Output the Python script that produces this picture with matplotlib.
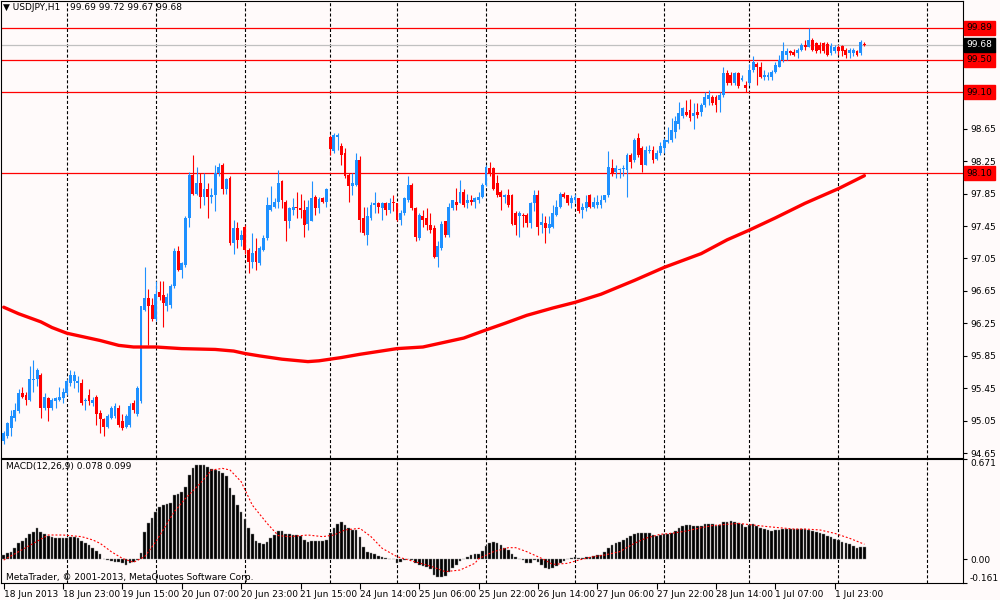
import matplotlib
matplotlib.use('Agg')
import matplotlib.pyplot as plt
import matplotlib.transforms as mtransforms
import numpy as np

plt.rcParams['font.family'] = ['DejaVu Sans']
plt.rcParams['lines.scale_dashes'] = False

# USDJPY H1 candles, bar 0 = 18 Jun 2013 07:00
open_p = [94.80, 94.86, 94.96, 95.09, 95.17, 95.39, 95.37, 95.31, 95.55, 95.56,
          95.62, 95.21, 95.33, 95.21, 95.29, 95.31, 95.33, 95.39, 95.52, 95.54,
          95.52, 95.52, 95.29, 95.37, 95.27, 95.35, 95.15, 95.07, 94.98, 95.09,
          95.11, 95.21, 95.05, 94.98, 95.00, 95.27, 95.13, 95.29, 96.42, 96.56,
          96.48, 96.30, 96.64, 96.60, 96.46, 96.48, 96.71, 97.14, 96.91, 96.97,
          97.55, 98.08, 97.85, 97.98, 97.81, 97.90, 97.81, 97.83, 98.10, 98.20,
          97.90, 98.04, 97.24, 97.42, 97.28, 97.44, 97.16, 97.01, 97.14, 96.99,
          97.16, 97.30, 97.65, 97.69, 97.75, 98.00, 97.75, 97.51, 97.65, 97.69,
          97.67, 97.65, 97.48, 97.51, 97.81, 97.67, 97.80, 97.75, 98.55, 98.37,
          98.55, 98.43, 98.35, 98.08, 97.94, 97.96, 98.26, 97.55, 97.34, 97.55,
          97.71, 97.73, 97.67, 97.73, 97.65, 97.75, 97.73, 97.53, 97.61, 97.77,
          97.96, 97.67, 97.30, 97.57, 97.55, 97.46, 97.42, 97.07, 97.18, 97.51,
          97.34, 97.67, 97.75, 97.73, 97.87, 97.73, 97.77, 97.75, 97.77, 97.81,
          97.96, 98.16, 98.17, 97.98, 97.87, 97.81, 97.83, 97.83, 97.61, 97.57,
          97.59, 97.59, 97.49, 97.73, 97.83, 97.46, 97.49, 97.42, 97.44, 97.59,
          97.69, 97.85, 97.83, 97.73, 97.77, 97.79, 97.65, 97.67, 97.83, 97.69,
          97.71, 97.71, 97.77, 97.83, 98.16, 98.12, 98.14, 98.15, 98.14, 98.33,
          98.26, 98.53, 98.41, 98.20, 98.37, 98.39, 98.28, 98.35, 98.41, 98.49,
          98.51, 98.61, 98.71, 98.80, 98.86, 98.88, 98.80, 98.86, 98.86, 98.94,
          99.02, 99.04, 99.04, 99.00, 99.06, 99.33, 99.31, 99.21, 99.33, 99.25,
          99.19, 99.21, 99.37, 99.45, 99.41, 99.29, 99.29, 99.29, 99.35, 99.41,
          99.49, 99.56, 99.60, 99.59, 99.58, 99.62, 99.68, 99.66, 99.74, 99.70,
          99.68, 99.70, 99.69, 99.58, 99.60, 99.66, 99.67, 99.62, 99.58, 99.58,
          99.60, 99.58, 99.69]
high_p = [94.92, 95.04, 95.19, 95.27, 95.44, 95.47, 95.41, 95.72, 95.80, 95.70,
          95.64, 95.39, 95.35, 95.33, 95.35, 95.47, 95.46, 95.56, 95.68, 95.66,
          95.60, 95.56, 95.33, 95.44, 95.35, 95.37, 95.19, 95.09, 95.13, 95.23,
          95.27, 95.25, 95.13, 95.13, 95.27, 95.31, 95.48, 96.46, 96.95, 96.67,
          96.56, 96.77, 96.77, 96.77, 96.62, 96.73, 97.18, 97.20, 97.01, 97.57,
          98.12, 98.33, 98.18, 98.10, 98.10, 97.98, 97.92, 98.20, 98.22, 98.22,
          98.04, 98.06, 97.52, 97.50, 97.40, 97.46, 97.18, 97.36, 97.30, 97.20,
          97.34, 97.81, 97.94, 97.79, 98.14, 98.02, 97.77, 97.69, 97.79, 97.87,
          97.85, 97.77, 97.77, 98.00, 97.83, 97.81, 97.81, 97.92, 98.57, 98.59,
          98.59, 98.47, 98.41, 98.10, 98.10, 98.35, 98.31, 97.69, 97.69, 97.75,
          97.87, 97.75, 97.75, 97.75, 97.79, 97.83, 97.73, 97.65, 97.81, 98.06,
          97.98, 97.69, 97.61, 97.65, 97.67, 97.61, 97.46, 97.26, 97.51, 97.51,
          97.73, 97.77, 97.92, 98.02, 97.90, 97.85, 97.83, 97.81, 97.87, 97.98,
          98.20, 98.24, 98.18, 98.08, 97.89, 97.85, 97.91, 97.85, 97.63, 97.63,
          97.61, 97.61, 97.75, 97.89, 97.89, 97.61, 97.57, 97.57, 97.71, 97.77,
          97.87, 97.87, 97.83, 97.83, 97.85, 97.79, 97.73, 97.83, 97.85, 97.81,
          97.83, 97.83, 97.83, 98.37, 98.28, 98.20, 98.16, 98.20, 98.35, 98.35,
          98.53, 98.59, 98.43, 98.43, 98.45, 98.43, 98.39, 98.49, 98.53, 98.67,
          98.78, 98.80, 98.98, 98.92, 99.00, 99.02, 98.96, 98.96, 98.96, 99.10,
          99.13, 99.06, 99.06, 99.10, 99.41, 99.37, 99.35, 99.35, 99.35, 99.31,
          99.23, 99.45, 99.54, 99.47, 99.47, 99.37, 99.35, 99.37, 99.47, 99.56,
          99.72, 99.64, 99.62, 99.63, 99.64, 99.70, 99.74, 99.89, 99.76, 99.72,
          99.72, 99.72, 99.72, 99.70, 99.68, 99.68, 99.68, 99.64, 99.64, 99.64,
          99.62, 99.74, 99.72]
low_p = [94.76, 94.84, 94.86, 95.05, 95.15, 95.33, 95.25, 95.29, 95.40, 95.48,
         95.09, 95.19, 95.05, 95.19, 95.21, 95.29, 95.27, 95.37, 95.48, 95.46,
         95.40, 95.25, 95.19, 95.25, 95.23, 95.00, 94.90, 94.86, 94.96, 95.07,
         95.09, 94.98, 94.94, 94.96, 94.98, 95.15, 95.11, 95.27, 96.40, 95.99,
         96.28, 96.28, 96.54, 96.21, 96.40, 96.44, 96.69, 96.89, 96.81, 96.95,
         97.44, 97.83, 97.83, 97.67, 97.71, 97.55, 97.73, 97.63, 98.06, 97.85,
         97.85, 97.22, 97.10, 97.18, 97.20, 97.10, 96.87, 96.93, 96.91, 96.97,
         97.14, 97.28, 97.63, 97.67, 97.67, 97.67, 97.26, 97.42, 97.59, 97.55,
         97.55, 97.32, 97.40, 97.51, 97.59, 97.61, 97.73, 97.69, 98.33, 98.35,
         98.39, 98.20, 98.04, 97.75, 97.83, 97.94, 97.38, 97.34, 97.22, 97.53,
         97.61, 97.61, 97.53, 97.59, 97.61, 97.63, 97.51, 97.46, 97.59, 97.75,
         97.65, 97.26, 97.28, 97.44, 97.40, 97.36, 97.05, 96.95, 97.16, 97.32,
         97.32, 97.65, 97.65, 97.73, 97.69, 97.67, 97.71, 97.67, 97.73, 97.79,
         97.94, 98.06, 97.89, 97.81, 97.65, 97.73, 97.69, 97.46, 97.34, 97.32,
         97.44, 97.44, 97.42, 97.63, 97.34, 97.36, 97.24, 97.36, 97.42, 97.57,
         97.67, 97.79, 97.71, 97.67, 97.73, 97.61, 97.55, 97.63, 97.67, 97.67,
         97.67, 97.67, 97.75, 97.81, 98.06, 98.04, 98.04, 98.06, 97.81, 98.16,
         98.24, 98.30, 98.12, 98.20, 98.35, 98.22, 98.26, 98.33, 98.35, 98.47,
         98.49, 98.53, 98.65, 98.78, 98.80, 98.74, 98.65, 98.78, 98.80, 98.92,
         98.94, 98.94, 98.86, 98.86, 99.04, 99.19, 99.19, 99.19, 99.15, 99.23,
         99.10, 99.19, 99.35, 99.19, 99.27, 99.25, 99.25, 99.25, 99.33, 99.41,
         99.47, 99.49, 99.56, 99.54, 99.52, 99.60, 99.62, 99.66, 99.60, 99.58,
         99.58, 99.58, 99.54, 99.56, 99.58, 99.56, 99.54, 99.52, 99.52, 99.54,
         99.54, 99.56, 99.67]
close_p = [94.90, 95.03, 95.11, 95.19, 95.39, 95.35, 95.31, 95.56, 95.57, 95.68,
           95.21, 95.35, 95.21, 95.31, 95.33, 95.35, 95.41, 95.54, 95.61, 95.62,
           95.54, 95.27, 95.31, 95.29, 95.31, 95.13, 95.07, 94.98, 95.11, 95.21,
           95.23, 95.00, 94.96, 95.11, 95.23, 95.19, 95.46, 96.46, 96.56, 96.46,
           96.30, 96.61, 96.58, 96.50, 96.58, 96.71, 97.14, 96.91, 96.99, 97.55,
           98.08, 97.85, 97.98, 97.81, 97.90, 97.81, 97.83, 98.10, 98.18, 97.90,
           98.03, 97.24, 97.42, 97.28, 97.34, 97.16, 97.01, 97.12, 97.01, 97.18,
           97.30, 97.71, 97.71, 97.75, 97.98, 97.77, 97.51, 97.67, 97.69, 97.67,
           97.65, 97.46, 97.69, 97.79, 97.67, 97.78, 97.75, 97.90, 98.40, 98.57,
           98.57, 98.33, 98.06, 97.94, 97.98, 98.26, 97.53, 97.36, 97.57, 97.71,
           97.73, 97.69, 97.73, 97.65, 97.73, 97.73, 97.53, 97.61, 97.79, 97.96,
           97.67, 97.32, 97.59, 97.53, 97.46, 97.40, 97.07, 97.20, 97.48, 97.34,
           97.69, 97.77, 97.71, 97.87, 97.71, 97.77, 97.75, 97.79, 97.81, 97.96,
           98.18, 98.10, 97.91, 97.83, 97.81, 97.83, 97.71, 97.48, 97.46, 97.61,
           97.57, 97.49, 97.73, 97.83, 97.44, 97.50, 97.42, 97.48, 97.61, 97.69,
           97.85, 97.81, 97.73, 97.79, 97.81, 97.63, 97.69, 97.75, 97.69, 97.75,
           97.75, 97.77, 97.83, 98.18, 98.10, 98.16, 98.15, 98.16, 98.33, 98.24,
           98.51, 98.33, 98.20, 98.39, 98.39, 98.26, 98.35, 98.43, 98.51, 98.51,
           98.63, 98.74, 98.84, 98.90, 98.82, 98.78, 98.84, 98.82, 98.94, 99.04,
           99.06, 98.96, 98.94, 99.06, 99.33, 99.21, 99.21, 99.33, 99.17, 99.27,
           99.15, 99.37, 99.47, 99.41, 99.29, 99.31, 99.31, 99.35, 99.43, 99.49,
           99.60, 99.60, 99.58, 99.56, 99.62, 99.68, 99.66, 99.74, 99.62, 99.60,
           99.62, 99.60, 99.56, 99.67, 99.66, 99.60, 99.60, 99.56, 99.62, 99.62,
           99.56, 99.72, 99.68]

# moving average (read at a number of bars)
ma_idx = [0, 4, 10, 13, 17, 22, 26, 31, 35, 41, 48, 57, 62, 65, 69, 75, 82, 85,
          91, 96, 106, 113, 119, 124, 130, 135, 141, 148, 154, 161, 170, 178,
          188, 195, 201, 208, 216, 225, 232]
ma_val = [96.45, 96.37, 96.27, 96.20, 96.13, 96.08, 96.04, 95.98, 95.96, 95.96,
          95.94, 95.93, 95.91, 95.88, 95.85, 95.81, 95.78, 95.79, 95.83, 95.87,
          95.94, 95.96, 96.02, 96.07, 96.17, 96.25, 96.35, 96.44, 96.51, 96.61,
          96.78, 96.94, 97.11, 97.28, 97.40, 97.55, 97.73, 97.91, 98.07]

levels = [99.89, 99.50, 99.10, 98.10]
bid = 99.68

# MACD(12,26,9) histogram per bar
macd = [0.027, 0.038, 0.049, 0.072, 0.105, 0.123, 0.139, 0.166, 0.183, 0.206,
        0.179, 0.166, 0.157, 0.148, 0.143, 0.139, 0.139, 0.143, 0.150, 0.150,
        0.143, 0.121, 0.105, 0.094, 0.076, 0.054, 0.031, 0.002, -0.007, -0.013,
        -0.018, -0.022, -0.029, -0.040, -0.029, -0.022, -0.007, 0.038, 0.183, 0.239,
        0.273, 0.318, 0.351, 0.362, 0.367, 0.374, 0.430, 0.436, 0.452, 0.485,
        0.564, 0.608, 0.631, 0.631, 0.631, 0.615, 0.604, 0.597, 0.593, 0.575,
        0.559, 0.479, 0.430, 0.362, 0.318, 0.266, 0.206, 0.166, 0.123, 0.105,
        0.101, 0.116, 0.139, 0.161, 0.188, 0.188, 0.166, 0.166, 0.161, 0.161,
        0.154, 0.128, 0.116, 0.121, 0.121, 0.121, 0.121, 0.128, 0.177, 0.206,
        0.233, 0.246, 0.228, 0.210, 0.195, 0.195, 0.150, 0.083, 0.049, 0.038,
        0.031, 0.022, 0.016, 0.004, 0.001, -0.001, -0.029, -0.018, -0.007, 0.001,
        -0.007, -0.029, -0.040, -0.045, -0.051, -0.067, -0.107, -0.119, -0.119, -0.114,
        -0.089, -0.063, -0.040, -0.013, 0.001, 0.016, 0.027, 0.034, 0.034,
        0.054, 0.089, 0.105, 0.116, 0.105, 0.094, 0.072, 0.060, 0.031, 0.016,
        0.001, -0.007, -0.029, -0.029, -0.007, -0.022, -0.040, -0.058, -0.067, -0.058,
        -0.045, -0.029, -0.013, 0.001, 0.004, 0.016, 0.009, 0.004, 0.016, 0.016,
        0.020, 0.027, 0.027, 0.045, 0.072, 0.094, 0.105, 0.116, 0.128, 0.143,
        0.157, 0.168, 0.177, 0.172, 0.172, 0.172, 0.161, 0.157, 0.161, 0.166,
        0.166, 0.172, 0.188, 0.206, 0.221, 0.228, 0.228, 0.224, 0.221, 0.221,
        0.235, 0.235, 0.233, 0.224, 0.228, 0.246, 0.246, 0.255, 0.246, 0.239,
        0.233, 0.217, 0.228, 0.233, 0.224, 0.210, 0.201, 0.195, 0.190, 0.195,
        0.195, 0.199, 0.199, 0.199, 0.199, 0.199, 0.199, 0.199, 0.195, 0.188,
        0.183, 0.177, 0.168, 0.154, 0.145, 0.132, 0.128, 0.116, 0.105, 0.098,
        0.087, 0.076, 0.083, 0.078]

# signal line (read at a number of bars)
sig_idx = [0, 4, 8, 12, 16, 21, 24, 26, 29, 32, 35, 38, 41, 46, 49, 53, 56, 59,
           61, 64, 67, 71, 74, 77, 82, 86, 89, 92, 96, 99, 102, 106, 110, 115,
           119, 123, 127, 128, 132, 136, 138, 141, 145, 148, 152, 155, 159, 162,
           166, 170, 173, 177, 180, 184, 188, 191, 195, 198, 202, 206, 209, 213,
           216, 220, 224, 228, 232]
sig_val = [-0.007, 0.049, 0.105, 0.161, 0.161, 0.150, 0.128, 0.105, 0.049, 0.004,
           -0.022, 0.016, 0.116, 0.318, 0.407, 0.508, 0.597, 0.608, 0.597, 0.519,
           0.362, 0.239, 0.157, 0.150, 0.161, 0.150, 0.161, 0.195, 0.206, 0.150,
           0.072, 0.016, -0.013, -0.047, -0.085, -0.074, -0.029, 0.002, 0.049, 0.076,
           0.076, 0.049, 0.004, -0.036, -0.029, -0.007, 0.016, 0.027, 0.049, 0.105,
           0.139, 0.166, 0.172, 0.188, 0.210, 0.224, 0.233, 0.239, 0.228, 0.217,
           0.210, 0.201, 0.201, 0.195, 0.172, 0.139, 0.099]

day_lines = [17, 41, 65, 88, 106, 130, 154, 178, 201, 225, 249]
tick_idx = [0, 16, 32, 48, 64, 80, 96, 112, 128, 144, 160, 176, 192, 208, 224]
tick_lbl = ['18 Jun 2013', '18 Jun 23:00', '19 Jun 15:00', '20 Jun 07:00',
            '20 Jun 23:00', '21 Jun 15:00', '24 Jun 14:00', '25 Jun 06:00',
            '25 Jun 22:00', '26 Jun 14:00', '27 Jun 06:00', '27 Jun 22:00',
            '28 Jun 14:00', '1 Jul 07:00', '1 Jul 23:00']
price_ticks = [94.65, 95.05, 95.45, 95.85, 96.25, 96.65, 97.05, 97.45,
               97.85, 98.25, 98.65, 99.05, 99.45, 99.85]

BG = '#fffafa'
UP = '#1e90ff'
DOWN = '#ff0000'
FS = 6.5
W, H = 1000, 600


def rect(left, top, right, bottom):
    return [left / W, 1 - bottom / H, (right - left) / W, (bottom - top) / H]


fig = plt.figure(figsize=(10, 6), dpi=100, facecolor=BG)
ax = fig.add_axes(rect(1, 1, 963, 458), facecolor=BG)
ax2 = fig.add_axes(rect(1, 459, 963, 583), facecolor=BG)

xlim = ((1 - 3.7) / 3.71, (963 - 3.7) / 3.71)

# --- candles ---
o = np.array(open_p)
c = np.array(close_p)
idx = np.arange(len(c))
cols = np.where(c >= o, UP, DOWN)
ax.vlines(idx, low_p, high_p, colors=cols, lw=0.8, zorder=3)
ax.bar(idx, np.maximum(np.abs(c - o), 0.012), bottom=np.minimum(o, c),
       width=0.78, color=cols, linewidth=0, zorder=4)

ax.plot(ma_idx, ma_val, color='red', lw=2.4, zorder=5,
        solid_capstyle='round', solid_joinstyle='round')

for v in levels:
    ax.axhline(v, color='red', lw=0.9, zorder=2)
ax.axhline(bid, color='#c0c0c0', lw=0.9, zorder=2)

for a in (ax, ax2):
    for d in day_lines:
        a.axvline(d, color='black', lw=0.8, linestyle=(0, (2.2, 1.5)), zorder=1)
    a.set_xlim(*xlim)
    for s in a.spines.values():
        s.set_color('black')
        s.set_linewidth(0.8)

ax.set_ylim(94.593, 100.221)
ax.yaxis.tick_right()
ax.set_yticks(price_ticks)
ax.set_yticklabels([f'{p:.2f}' for p in price_ticks])
ax.tick_params(axis='y', direction='out', length=3, pad=2, labelsize=FS)
ax.tick_params(axis='x', bottom=False, labelbottom=False)

# price boxes sit over the axis labels, as in the terminal
trans = mtransforms.blended_transform_factory(ax.transAxes, ax.transData)
for v in levels:
    ax.text(1.004, v, f'{v:.2f}', transform=trans, ha='left', va='center',
            fontsize=FS, color='black', clip_on=False, zorder=10,
            bbox=dict(boxstyle='square,pad=0.3', facecolor='red', edgecolor='red'))
ax.text(1.004, bid, f'{bid:.2f}', transform=trans, ha='left', va='center',
        fontsize=FS, color='white', clip_on=False, zorder=10,
        bbox=dict(boxstyle='square,pad=0.3', facecolor='black', edgecolor='black'))

# --- MACD ---
ax2.bar(np.arange(len(macd)), macd, width=0.72, color='black',
        edgecolor='#8a8a8a', linewidth=0.3, zorder=3)
ax2.plot(sig_idx, sig_val, color='red', lw=0.8, linestyle=(0, (1.4, 1.4)), zorder=4)
ax2.set_ylim(-0.161, 0.671)
ax2.yaxis.tick_right()
ax2.set_yticks([0.671, 0.0, -0.161])
ax2.set_yticklabels(['0.671', '0.00', '-0.161'])
ax2.tick_params(axis='y', direction='out', length=3, pad=2, labelsize=FS)
ylbls = ax2.get_yticklabels()
ylbls[0].set_va('top')
ylbls[2].set_va('bottom')

ax2.set_xticks(tick_idx)
ax2.set_xticklabels(tick_lbl, ha='left')
ax2.tick_params(axis='x', direction='out', length=4, pad=1, labelsize=FS)

fig.text(3 / W, 1 - 8 / H, '\u25bc USDJPY,H1', fontsize=FS, va='center', ha='left')
fig.text(70 / W, 1 - 8 / H, '99.69 99.72 99.67 99.68', fontsize=FS,
         va='center', ha='left')
fig.text(6 / W, 1 - 467 / H, 'MACD(12,26,9) 0.078 0.099', fontsize=FS,
         va='center', ha='left')
fig.text(6 / W, 1 - 577 / H, 'MetaTrader, \u00a9 2001-2013, MetaQuotes Software Corp.',
         fontsize=FS, va='center', ha='left')

fig.savefig('out.png', dpi=100, facecolor=BG)
